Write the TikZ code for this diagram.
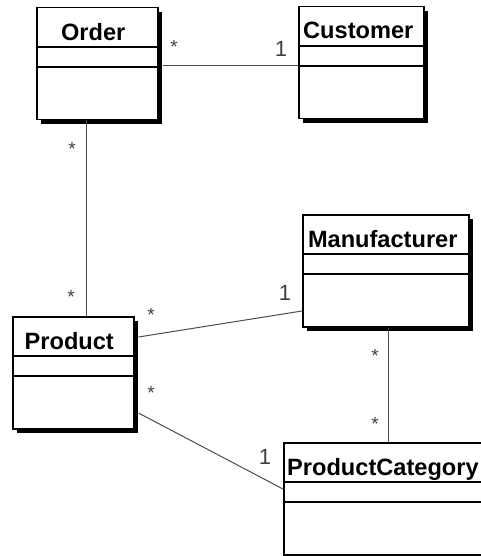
\documentclass[tikz,border=0pt]{standalone}
\usepackage{fontspec}
\setmainfont{Liberation Sans}
\usetikzlibrary{shadows,calc}
\begin{document}
\begin{tikzpicture}[x=1pt,y=1pt,
  classbox/.style={draw=black, line width=1.5pt, fill=white, rectangle, inner sep=0pt,
    minimum height=112pt, anchor=north west,
    drop shadow={shadow xshift=4pt, shadow yshift=-4pt, fill=black, opacity=1}},
  divider/.style={draw=black, line width=1.5pt},
  classname/.style={anchor=base, font=\fontsize{23.6}{26}\selectfont\bfseries, inner sep=0pt},
  conn/.style={draw=black!70, line width=1pt},
  mult/.style={font=\fontsize{19}{21}\selectfont, text=black!75, inner sep=0pt},
  multone/.style={font=\fontsize{22}{24}\selectfont, text=black!75, inner sep=0pt}
]
\useasboundingbox (0,0) rectangle (481,-556);
\begin{scope}
\clip (0,0) rectangle (481,-556);
% class boxes
\node[classbox, minimum width=121pt] (order) at (36,-7) {};
\node[classbox, minimum width=125pt] (customer) at (298,-6) {};
\node[classbox, minimum width=166pt] (manu) at (302,-214) {};
\node[classbox, minimum width=121pt] (product) at (12,-316) {};
\node[classbox, minimum width=206pt] (pc) at (283,-442) {};
% dividers
\foreach \n in {order,customer,manu,product,pc}{
  \draw[divider] ([yshift=-40]\n.north west) -- ([yshift=-40]\n.north east);
  \draw[divider] ([yshift=-60]\n.north west) -- ([yshift=-60]\n.north east);
}
\end{scope}
% names
\node[classname] (ordert) at ($(order.north)+(-4,-34)$) {Order};
\node[classname] (customert) at ($(customer.north)+(-3,-33)$) {Customer};
\node[classname] (manut) at ($(manu.north)+(-3,-33)$) {Manufacturer};
\node[classname] (productt) at ($(product.north)+(-4,-33)$) {Product};
\node[classname, anchor=base west] (pct) at ($(pc.north west)+(4,-33)$) {ProductCategory};
% connectors
\draw[conn] ([shift={(4,-59)}]order.north east) -- ([yshift=-60]customer.north west);
\draw[conn] ([xshift=-10.5]order.south) -- ([xshift=13.5]product.north);
\draw[conn] ([shift={(4,-21)}]product.north east) -- ([yshift=-97]manu.north west);
\draw[conn] ([shift={(4,-97)}]product.north east) -- ([yshift=-47]pc.north west);
\draw[conn] ([xshift=3]manu.south) -- ([xshift=3]manu.south |- pc.north);
% multiplicities
\node[mult] (m1) at (174,-47) {*};
\node[multone] (m2) at (281,-49) {1};
\node[mult] (m3) at (72,-149) {*};
\node[mult] (m4) at (71,-297) {*};
\node[mult] (m5) at (151,-315) {*};
\node[multone] (m6) at (285,-293) {1};
\node[mult] (m7) at (375,-356) {*};
\node[mult] (m8) at (151,-393) {*};
\node[mult] (m9) at (375,-424) {*};
\node[multone] (m10) at (265,-457) {1};
\end{tikzpicture}
\end{document}
